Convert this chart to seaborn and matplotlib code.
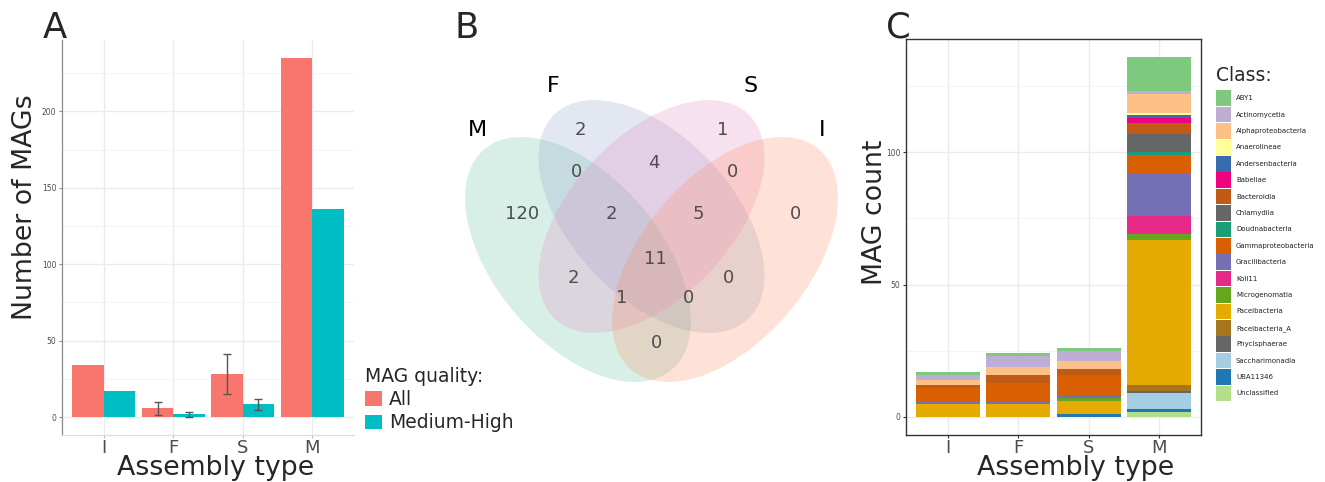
import numpy as np
import pandas as pd
import matplotlib
matplotlib.use("Agg")
import matplotlib.pyplot as plt
import seaborn as sns
from matplotlib.patches import Ellipse, Patch
from matplotlib.ticker import MultipleLocator

# ------------------------------------------------------------------ data
assembly_types = ["I", "F", "S", "M"]
quality_levels = ["All", "Medium-High"]
mags_all = [34, 5.7, 28.3, 235]
mags_medium_high = [17, 1.7, 8.3, 136]
sd_all = [np.nan, 4.2, 13.1, np.nan]
sd_medium_high = [np.nan, 1.6, 3.5, np.nan]

venn_sets = ["M", "F", "S", "I"]
venn_regions = ["F", "S", "M", "I", "MF", "FS", "SI", "MFS", "FSI",
                "MFSI", "MS", "FI", "MSI", "MFI", "MI"]
venn_counts = [2, 1, 120, 0, 0, 4, 0, 2, 5, 11, 2, 0, 1, 0, 0]

class_names = ["ABY1", "Actinomycetia", "Alphaproteobacteria", "Anaerolineae",
               "Andersenbacteria", "Babeliae", "Bacteroidia", "Chlamydiia",
               "Doudnabacteria", "Gammaproteobacteria", "Gracilibacteria",
               "Koll11", "Microgenomatia", "Paceibacteria", "Paceibacteria_A",
               "Phycisphaerae", "Saccharimonadia", "UBA11346", "Unclassified"]
class_counts_I = [1, 2, 2, 0, 0, 0, 1, 0, 0, 5, 1, 0, 0, 5, 0, 0, 0, 0, 0]
class_counts_F = [1, 4, 3, 0, 0, 0, 3, 0, 0, 7, 1, 0, 0, 5, 0, 0, 0, 0, 0]
class_counts_S = [1, 4, 3, 0, 0, 0, 2, 0, 0, 8, 1, 0, 1, 5, 0, 0, 0, 1, 0]
class_counts_M = [13, 1, 7, 1, 1, 2, 4, 7, 1, 7, 16, 7, 2, 55, 2, 1, 6, 1, 2]

# ------------------------------------------------------------------ styles
quality_colors = ["#F8766D", "#00BFC4"]
class_colors = ["#7FC97F", "#BEAED4", "#FDC086", "#FFFF99", "#386CB0", "#F0027F",
                "#BF5B17", "#666666", "#1B9E77", "#D95F02", "#7570B3", "#E7298A",
                "#66A61E", "#E6AB02", "#A6761D", "#666666", "#A6CEE3", "#1F78B4",
                "#B2DF8A"]
venn_colors = ["#66C2A5", "#8DA0CB", "#E78AC3", "#FC8D62"]

sns.set_style("white")
plt.rcParams["font.family"] = ["DejaVu Sans"]

W, H = 1325, 482
fig = plt.figure(figsize=(W / 100, H / 100), dpi=100)


def px_rect(x0, y0, x1, y1):
    return [x0 / W, 1 - y1 / H, (x1 - x0) / W, (y1 - y0) / H]


TICK_GRAY = "#4D4D4D"
TITLE_FS = 19.3

# ------------------------------------------------------------------ panel A
axA = fig.add_axes(px_rect(62, 40, 354, 435))
df_a = pd.DataFrame({
    "Assembly type": assembly_types * 2,
    "MAG quality": [quality_levels[0]] * 4 + [quality_levels[1]] * 4,
    "Number of MAGs": mags_all + mags_medium_high,
})
sns.barplot(data=df_a, x="Assembly type", y="Number of MAGs", hue="MAG quality",
            order=assembly_types, hue_order=quality_levels,
            palette=dict(zip(quality_levels, quality_colors)), width=0.9,
            errorbar=None, saturation=1, legend=False, ax=axA, zorder=2,
            linewidth=0)
for container, vals, errs in zip(axA.containers, [mags_all, mags_medium_high],
                                 [sd_all, sd_medium_high]):
    for bar, v, e in zip(container, vals, errs):
        if np.isnan(e):
            continue
        axA.errorbar(bar.get_x() + bar.get_width() / 2, v, yerr=e, fmt="none",
                     ecolor="#555555", elinewidth=1.0, capsize=2.6, capthick=1.0,
                     zorder=3)
axA.set_xlim(-0.6, 3.6)
axA.set_ylim(-11.75, 246.75)
axA.yaxis.set_major_locator(MultipleLocator(50))
axA.yaxis.set_minor_locator(MultipleLocator(25))
axA.set_axisbelow(True)
axA.grid(which="major", color="#EBEBEB", lw=1.0)
axA.grid(which="minor", axis="y", color="#F4F4F4", lw=0.8)
for s in ["top", "right"]:
    axA.spines[s].set_visible(False)
axA.spines["left"].set_color("#8A8A8A")
axA.spines["bottom"].set_color("#DDDDDD")
axA.spines["left"].set_linewidth(0.9)
axA.spines["bottom"].set_linewidth(0.9)
axA.tick_params(axis="y", which="major", labelsize=5.5, labelcolor=TICK_GRAY,
                length=2.5, width=0.8, color="#8A8A8A", pad=1.5, left=True)
axA.tick_params(axis="x", which="major", labelsize=13, labelcolor=TICK_GRAY,
                length=2.5, width=0.8, color="#BBBBBB", pad=0.5, bottom=True)
axA.tick_params(which="minor", length=0)
axA.set_xlabel("Assembly type", fontsize=TITLE_FS)
axA.set_ylabel("Number of MAGs", fontsize=TITLE_FS)
axA.xaxis.set_label_coords(0.527, -0.050)
axA.yaxis.set_label_coords(-0.083, 0.577)

legA = fig.legend(
    handles=[Patch(facecolor=c, edgecolor="none") for c in quality_colors],
    labels=quality_levels, title="MAG quality:", loc="upper left",
    bbox_to_anchor=(365 / W, 1 - 366.5 / H), frameon=False, fontsize=13.5,
    title_fontsize=13.5, borderpad=0, borderaxespad=0, handlelength=0.9,
    handleheight=0.83, handletextpad=0.37, labelspacing=0.24, alignment="left")

# ------------------------------------------------------------------ panel B (Venn)
axB = fig.add_axes(px_rect(440, 40, 880, 440))
axB.set_xlim(440, 880)
axB.set_ylim(440, 40)
axB.set_axis_off()

# layout of each ellipse: centre x, centre y, semi-major, semi-minor, angle
ellipse_layout = {"M": (578.0, 259.5, 144.7, 82.7, 49.6),
                  "F": (651.5, 216.5, 140.9, 80.5, 46.7),
                  "S": (651.5, 216.5, 140.9, 80.5, -46.7),
                  "I": (725.0, 259.5, 144.7, 82.7, -49.6)}
for name, col in zip(venn_sets, venn_colors):
    cx, cy, a, b, ang = ellipse_layout[name]
    axB.add_patch(Ellipse((cx, cy), width=2 * a, height=2 * b, angle=ang,
                          facecolor=col, alpha=0.25, edgecolor="none"))

region_pos = {"F": (580.7, 130), "S": (722.7, 130), "M": (521.7, 214),
              "I": (795.7, 214), "MF": (576, 171.7), "FS": (654.3, 163.3),
              "SI": (732.7, 171.7), "MFS": (611.7, 214), "FSI": (698.3, 214),
              "MFSI": (655, 259.3), "MS": (573.3, 278.3), "FI": (729, 278.3),
              "MSI": (621.7, 298.3), "MFI": (688.3, 298.3), "MI": (656.7, 342.7)}
for reg, cnt in zip(venn_regions, venn_counts):
    x, y = region_pos[reg]
    axB.text(x, y, str(cnt), ha="center", va="center", fontsize=13,
             color="#4D4D4D")

set_label_pos = {"M": (477.5, 136), "F": (553.5, 92), "S": (750.5, 92), "I": (822.5, 136)}
for name in venn_sets:
    x, y = set_label_pos[name]
    axB.text(x, y, name, ha="center", va="baseline", fontsize=16, color="black")

# ------------------------------------------------------------------ panel C
axC = fig.add_axes(px_rect(906, 39, 1201, 435))
df_c = pd.DataFrame({
    "Assembly type": np.repeat(assembly_types, len(class_names)),
    "Class": class_names * len(assembly_types),
    "MAG count": class_counts_I + class_counts_F + class_counts_S + class_counts_M,
})
df_c["Assembly type"] = pd.Categorical(df_c["Assembly type"],
                                       categories=assembly_types, ordered=True)
sns.histplot(data=df_c, x="Assembly type", hue="Class", weights="MAG count",
             hue_order=class_names, palette=dict(zip(class_names, class_colors)),
             multiple="stack", discrete=True, shrink=0.91, alpha=1, linewidth=0,
             legend=False, ax=axC, zorder=2)
axC.set_xlim(-0.6, 3.6)
axC.set_ylim(-6.8, 142.8)
axC.set_xticks(range(len(assembly_types)))
axC.set_xticklabels(assembly_types)
axC.yaxis.set_major_locator(MultipleLocator(50))
axC.yaxis.set_minor_locator(MultipleLocator(25))
axC.set_axisbelow(True)
axC.grid(which="major", color="#EBEBEB", lw=1.0)
axC.grid(which="minor", axis="y", color="#F4F4F4", lw=0.8)
for s in axC.spines.values():
    s.set_visible(True)
    s.set_color("#333333")
    s.set_linewidth(1.0)
axC.tick_params(axis="y", which="major", labelsize=5.5, labelcolor=TICK_GRAY,
                length=2.5, width=0.8, color="#333333", pad=1.5, left=True)
axC.tick_params(axis="x", which="major", labelsize=13, labelcolor=TICK_GRAY,
                length=2.5, width=0.8, color="#333333", pad=0.5, bottom=True)
axC.tick_params(which="minor", length=0)
axC.set_xlabel("Assembly type", fontsize=TITLE_FS)
axC.set_ylabel("MAG count", fontsize=TITLE_FS)
axC.xaxis.set_label_coords(0.576, -0.050)
axC.yaxis.set_label_coords(-0.060, 0.563)

legC = fig.legend(
    handles=[Patch(facecolor=c, edgecolor="none") for c in class_colors],
    labels=class_names, title="Class:", loc="upper left",
    bbox_to_anchor=(1216 / W, 1 - 66 / H), frameon=False, fontsize=5.0,
    title_fontsize=13.5, borderpad=0, borderaxespad=0, handlelength=2.16,
    handleheight=3.06, handletextpad=0.72, labelspacing=0.128, alignment="left")
legC._legend_box.sep = 3.9
for t in legC.get_texts():
    t.set_color("#222222")

# ------------------------------------------------------------------ panel tags
for tag, x in zip(["A", "B", "C"], [43, 455, 886]):
    fig.text(x / W, 1 - 38 / H, tag, fontsize=25.5, ha="left", va="baseline")

fig.savefig("out.png", dpi=100)
